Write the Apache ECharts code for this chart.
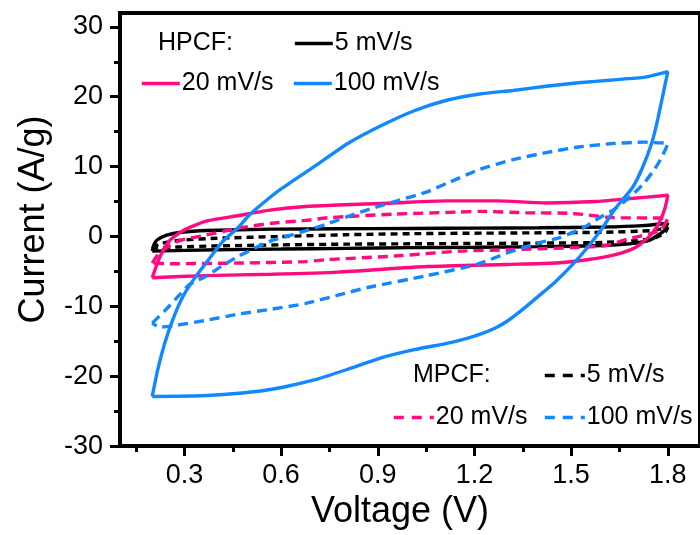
<!DOCTYPE html>
<html><head><meta charset="utf-8">
<script src="https://cdn.jsdelivr.net/npm/echarts@6/dist/echarts.min.js"></script>
<style>html,body{margin:0;padding:0;background:#fff}#c{width:700px;height:535px}</style>
</head><body><div id="c"></div>
<script>
// ---- data ----
const xTickLabels = [0.3, 0.6, 0.9, 1.2, 1.5, 1.8];
const xMinorTicks = [0.15, 0.45, 0.75, 1.05, 1.35, 1.65];
const yTickLabels = [-30, -20, -10, 0, 10, 20, 30];
const yMinorTicks = [-25, -15, -5, 5, 15, 25];

// [voltage (V), current (A/g)] – closed CV loops
const hpcf5 = [[0.2,-2.1],[0.205,-1.2],[0.215,-0.5],[0.245,0.2],[0.29,0.6],[0.37,0.85],[0.57,1.05],[0.78,1.1],[1.0,1.15],[1.2,1.2],[1.4,1.25],[1.6,1.35],[1.72,1.55],[1.8,1.9],
  [1.79,0.9],[1.77,0.2],[1.74,-0.6],[1.68,-1.05],[1.6,-1.3],[1.4,-1.45],[1.2,-1.55],[1.0,-1.6],[0.8,-1.7],[0.6,-1.8],[0.4,-1.9],[0.2,-2.1]];
const mpcf5 = [[0.2,-1.7],[0.22,-1.1],[0.26,-0.7],[0.3,-0.5],[0.4,-0.25],[0.6,0.0],[0.8,0.25],[1.0,0.4],[1.3,0.5],[1.6,0.6],[1.75,0.85],[1.8,1.3],
  [1.79,0.5],[1.76,-0.2],[1.7,-0.6],[1.6,-0.85],[1.4,-0.95],[1.2,-1.0],[1.0,-1.05],[0.8,-1.1],[0.6,-1.2],[0.4,-1.35],[0.28,-1.5],[0.2,-1.7]];
const hpcf20 = [[0.2,-5.9],[0.223,-3.0],[0.254,-0.6],[0.294,0.8],[0.367,2.2],[0.469,3.0],[0.57,3.8],[0.675,4.3],[0.776,4.5],[0.952,4.8],[1.114,5.1],[1.268,5.1],[1.422,4.8],[1.576,5.0],[1.677,5.4],[1.8,5.9],
  [1.791,4.0],[1.769,1.6],[1.738,-0.2],[1.698,-1.6],[1.637,-2.6],[1.554,-3.3],[1.453,-3.8],[1.299,-4.0],[1.053,-4.3],[0.776,-5.1],[0.57,-5.4],[0.367,-5.6],[0.2,-5.9]];
const mpcf20 = [[0.2,-3.8],[0.225,-2.2],[0.284,-0.6],[0.367,0.2],[0.469,1.2],[0.57,1.9],[0.675,2.3],[0.75,2.7],[0.952,3.2],[1.154,3.5],[1.216,3.6],[1.36,3.4],[1.505,3.3],[1.628,2.7],[1.8,2.6],
  [1.78,1.0],[1.74,0.3],[1.689,-0.2],[1.606,-1.3],[1.505,-1.6],[1.299,-1.9],[1.154,-2.1],[0.952,-2.8],[0.746,-3.3],[0.675,-3.6],[0.469,-3.8],[0.263,-3.9],[0.2,-3.8]];
const hpcf100 = [[0.2,-22.9],[0.217,-19.1],[0.238,-15.4],[0.263,-12.0],[0.294,-8.7],[0.331,-6.0],[0.367,-3.8],[0.417,-0.8],[0.469,1.4],[0.5,3.0],[0.55,5.0],[0.6,6.8],[0.706,10.1],[0.807,13.3],[0.908,15.8],[1.013,18.0],[1.114,19.5],[1.216,20.4],[1.32,20.9],[1.422,21.5],[1.523,22.0],[1.628,22.4],[1.729,22.8],[1.8,23.6],
  [1.769,16.8],[1.751,13.5],[1.72,9.7],[1.689,6.9],[1.637,4.0],[1.597,1.2],[1.554,-1.4],[1.505,-4.0],[1.453,-6.4],[1.4,-8.5],[1.34,-10.8],[1.299,-12.2],[1.26,-13.2],[1.216,-14.0],[1.16,-14.8],[1.114,-15.3],[1.013,-16.2],[0.908,-17.4],[0.807,-19.0],[0.706,-20.5],[0.623,-21.4],[0.552,-22.0],[0.45,-22.5],[0.35,-22.8],[0.2,-22.9]];
const mpcf100 = [[0.2,-12.4],[0.244,-10.4],[0.284,-8.4],[0.315,-6.9],[0.367,-5.7],[0.417,-4.2],[0.469,-2.8],[0.521,-1.6],[0.57,-0.6],[0.623,0.1],[0.675,0.8],[0.736,1.7],[0.847,3.5],[0.952,5.0],[1.053,6.4],[1.114,7.6],[1.216,9.6],[1.32,11.0],[1.422,12.0],[1.523,12.8],[1.628,13.3],[1.729,13.5],[1.77,13.4],[1.8,13.3],
  [1.782,11.4],[1.76,9.7],[1.729,7.8],[1.689,5.9],[1.637,4.0],[1.585,2.6],[1.536,1.2],[1.462,-0.2],[1.40,-0.9],[1.351,-1.6],[1.299,-2.4],[1.207,-4.0],[1.053,-5.6],[0.869,-7.3],[0.776,-8.4],[0.675,-9.6],[0.57,-10.4],[0.469,-11.1],[0.367,-12.0],[0.275,-12.7],[0.223,-13.0],[0.2,-12.4]];

const seriesNames = ['HPCF 5 mV/s','HPCF 20 mV/s','HPCF 100 mV/s','MPCF 5 mV/s','MPCF 20 mV/s','MPCF 100 mV/s'];
const BLACK = '#000000', PINK = '#ff0a80', BLUE = '#1188ff';
const FF = "'Liberation Sans', Arial, sans-serif";

const chart = echarts.init(document.getElementById('c'), null, {renderer:'canvas'});

function mkSeries(name, data, color, dashed, dash) {
  return {
    name, type:'line', data, xAxisIndex:0, yAxisIndex:0,
    showSymbol:false, symbol:'none', smooth:0.2, animation:false,
    lineStyle:{color, width:3.4, type: dashed ? dash : 'solid', cap:'butt'},
    itemStyle:{color}
  };
}
function legendAt(name, left, top, w, dashed) {
  const ls = {width:3.6};
  if (dashed) ls.type = [10, 8];
  return {
    data:[name], left, top, itemWidth:w, itemHeight:14, padding:0, itemGap:0,
    selectedMode:false,
    itemStyle:{opacity:0},
    lineStyle:ls,
    formatter: n => n.replace(/^\S+ /, ''),
    textStyle:{fontSize:25, fontFamily:FF, color:'#000', padding:[0,0,0,-3]}
  };
}

const option = {
  backgroundColor:'#fff',
  animation:false,
  grid:{left:120, top:12.9, width:585.6, height:437.1, show:true, borderColor:'#000', borderWidth:4, backgroundColor:'transparent'},
  title:[
    {text:'HPCF:', left:158, top:31, padding:0, textStyle:{fontSize:25, fontWeight:'normal', fontFamily:FF, color:'#000'}},
    {text:'MPCF:', left:413, top:363, padding:0, textStyle:{fontSize:25, fontWeight:'normal', fontFamily:FF, color:'#000'}}
  ],
  legend:[
    legendAt(seriesNames[0], 293, 31, 38, false),
    legendAt(seriesNames[1], 140, 71, 38, false),
    legendAt(seriesNames[2], 292, 71, 38, false),
    legendAt(seriesNames[3], 543, 363, 40, true),
    legendAt(seriesNames[4], 392, 405, 40, true),
    legendAt(seriesNames[5], 543, 405, 40, true)
  ],
  xAxis:[
    {type:'value', min:0.1, max:1.9, position:'bottom',
     name:'Voltage (V)', nameLocation:'middle', nameGap:46,
     nameTextStyle:{fontSize:36, fontFamily:FF, color:'#000', padding:[0,20,0,0]},
     axisLine:{show:true, onZero:false, lineStyle:{color:'#000', width:4}},
     axisTick:{show:true, inside:false, length:10, customValues:xTickLabels, lineStyle:{color:'#000', width:3}},
     axisLabel:{show:true, customValues:xTickLabels, margin:16, fontSize:27, fontFamily:FF, color:'#000', formatter:v=>String(v)},
     splitLine:{show:false}},
    {type:'value', min:0.1, max:1.9, position:'bottom',
     axisLine:{show:false, onZero:false}, axisLabel:{show:false}, splitLine:{show:false},
     axisTick:{show:true, inside:false, length:6, customValues:xMinorTicks, lineStyle:{color:'#000', width:3}}}
  ],
  yAxis:[
    {type:'value', min:-30, max:32, position:'left',
     name:'Current (A/g)', nameLocation:'middle', nameGap:68,
     nameTextStyle:{fontSize:36, fontFamily:FF, color:'#000', padding:[0,0,0,20]},
     axisLine:{show:true, onZero:false, lineStyle:{color:'#000', width:4}},
     axisTick:{show:true, inside:false, length:10, customValues:yTickLabels, lineStyle:{color:'#000', width:3}},
     axisLabel:{show:true, customValues:yTickLabels, margin:17, fontSize:27, fontFamily:FF, color:'#000'},
     splitLine:{show:false}},
    {type:'value', min:-30, max:32, position:'left',
     axisLine:{show:false, onZero:false}, axisLabel:{show:false}, splitLine:{show:false},
     axisTick:{show:true, inside:false, length:6, customValues:yMinorTicks, lineStyle:{color:'#000', width:3}}}
  ],
  series:[
    mkSeries(seriesNames[3], mpcf5, BLACK, true, [7,5]),
    mkSeries(seriesNames[0], hpcf5, BLACK, false),
    mkSeries(seriesNames[4], mpcf20, PINK, true, [10,6]),
    mkSeries(seriesNames[1], hpcf20, PINK, false),
    mkSeries(seriesNames[5], mpcf100, BLUE, true, [10,6]),
    mkSeries(seriesNames[2], hpcf100, BLUE, false)
  ]
};
chart.setOption(option);
</script></body></html>
